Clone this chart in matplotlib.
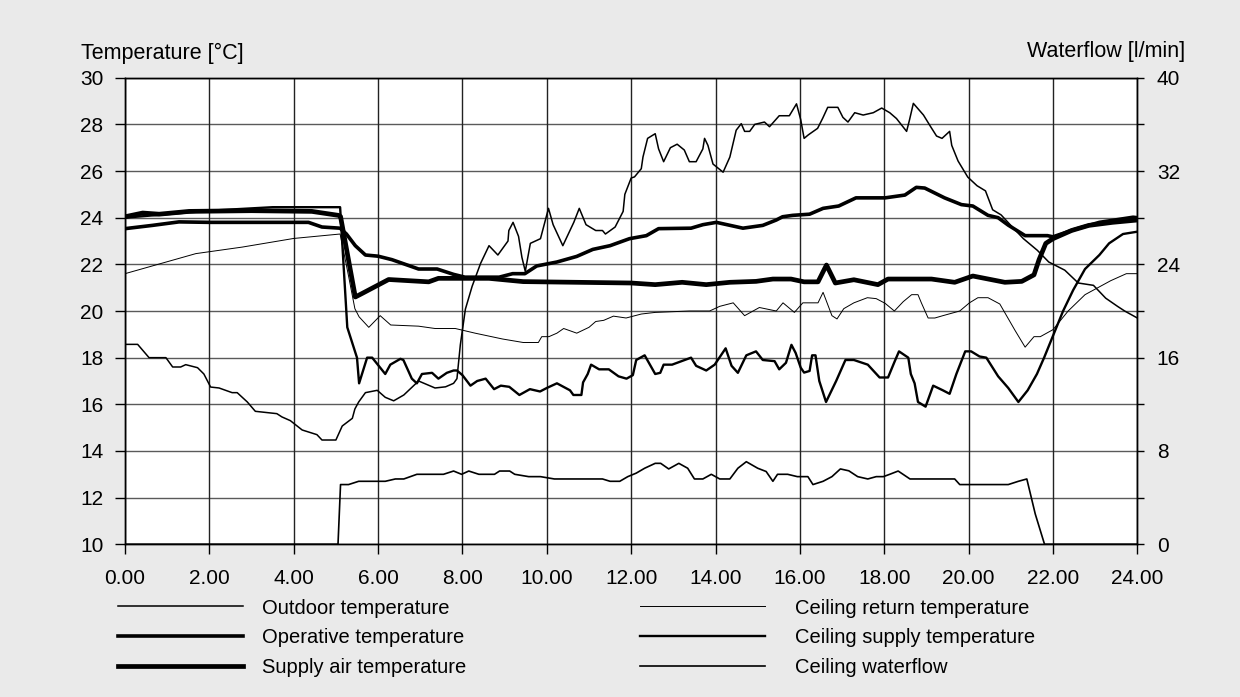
import matplotlib
matplotlib.use("Agg")
import matplotlib.pyplot as plt

plt.rcParams['font.family'] = ['Liberation Sans', 'DejaVu Sans']

# ---- data (hour of day, value) ----
outdoor_t = [0.0, 0.3, 0.57, 0.97, 1.13, 1.32, 1.44, 1.72, 1.87, 2.03, 2.23, 2.54, 2.66, 2.9, 3.09, 3.6,
             3.72, 3.92, 4.2, 4.55, 4.67, 5.0, 5.15, 5.39, 5.45, 5.54, 5.7, 5.98, 6.17, 6.37, 6.61, 6.96,
             7.35, 7.6, 7.79, 7.87, 7.95, 8.07, 8.23, 8.43, 8.63, 8.84, 8.96, 9.08, 9.1, 9.2, 9.33, 9.41,
             9.49, 9.61, 9.85, 10.04, 10.15, 10.38, 10.64, 10.77, 10.93, 11.16, 11.32, 11.39, 11.62, 11.81,
             11.85, 12.0, 12.08, 12.24, 12.28, 12.39, 12.57, 12.65, 12.77, 12.93, 13.09, 13.26, 13.38, 13.54,
             13.7, 13.74, 13.82, 13.94, 14.18, 14.34, 14.49, 14.61, 14.69, 14.81, 14.93, 15.16, 15.28, 15.51,
             15.75, 15.92, 16.02, 16.1, 16.2, 16.42, 16.54, 16.66, 16.9, 17.02, 17.14, 17.3, 17.5, 17.74,
             17.94, 18.13, 18.29, 18.53, 18.6, 18.69, 18.93, 19.1, 19.24, 19.37, 19.55, 19.6, 19.75, 19.98,
             20.2, 20.4, 20.57, 20.77, 21.0, 21.3, 21.63, 21.9, 22.28, 22.6, 22.96, 23.25, 23.53, 23.7, 24.0]
outdoor_T = [18.57, 18.57, 18.0, 18.0, 17.6, 17.6, 17.7, 17.57, 17.3, 16.74, 16.7, 16.5, 16.5, 16.1, 15.7, 15.6,
             15.46, 15.3, 14.9, 14.7, 14.47, 14.47, 15.07, 15.4, 15.8, 16.1, 16.5, 16.6, 16.3, 16.15, 16.4, 17.0,
             16.7, 16.75, 16.9, 17.1, 18.55, 20.08, 21.06, 22.04, 22.8, 22.4, 22.7, 23.0, 23.45, 23.8, 23.2, 22.3,
             21.7, 22.9, 23.1, 24.4, 23.7, 22.8, 23.8, 24.4, 23.7, 23.45, 23.45, 23.3, 23.6, 24.27,
             25.0, 25.7, 25.75, 26.1, 26.6, 27.4, 27.6, 26.95, 26.4, 27.0, 27.15, 26.9, 26.4, 26.4,
             26.95, 27.4, 27.1, 26.3, 25.95, 26.6, 27.75, 28.03, 27.7, 27.7, 28.0, 28.1, 27.9, 28.37,
             28.37, 28.88, 28.2, 27.4, 27.55, 27.83, 28.26, 28.73, 28.73, 28.3, 28.1, 28.5, 28.4, 28.5,
             28.7, 28.5, 28.25, 27.7, 28.2, 28.9, 28.4, 27.9, 27.5, 27.4, 27.7, 27.1, 26.43, 25.74,
             25.37, 25.15, 24.34, 24.12, 23.67, 23.1, 22.6, 22.1, 21.75, 21.2, 21.1, 20.55, 20.2, 20.0, 19.7]

operative_t = [0.0, 0.65, 1.28, 2.0, 4.35, 4.67, 5.1, 5.25, 5.46, 5.7, 6.0, 6.33, 6.96, 7.4, 7.79, 8.06, 8.87,
               9.19, 9.48, 9.76, 10.24, 10.71, 11.09, 11.5, 11.96, 12.36, 12.65, 13.42, 13.7, 14.02, 14.65,
               15.12, 15.44, 15.59, 15.83, 16.23, 16.55, 16.92, 17.33, 18.02, 18.49, 18.76, 18.96, 19.43,
               19.83, 20.1, 20.46, 20.7, 20.94, 21.34, 21.87, 22.0, 22.52, 23.1, 23.9, 24.0]
operative_T = [23.53, 23.67, 23.82, 23.8, 23.8, 23.6, 23.55, 23.3, 22.8, 22.4, 22.35, 22.2, 21.8, 21.8, 21.57,
               21.45, 21.45, 21.6, 21.6, 21.93, 22.1, 22.34, 22.64, 22.8, 23.1, 23.23, 23.53, 23.55, 23.7,
               23.8, 23.55, 23.67, 23.9, 24.04, 24.1, 24.15, 24.4, 24.5, 24.85, 24.85, 24.97, 25.3, 25.27,
               24.85, 24.56, 24.5, 24.1, 24.0, 23.68, 23.23, 23.23, 23.18, 23.5, 23.8, 24.02, 24.0]

supply_air_t = [0.0, 0.42, 0.81, 1.52, 3.0, 4.43, 5.06, 5.11, 5.46, 5.62, 6.25, 7.2, 7.43, 8.63, 9.44, 12.0,
                12.57, 13.21, 13.78, 14.34, 14.96, 15.36, 15.79, 16.1, 16.43, 16.63, 16.84, 17.28, 17.85,
                18.09, 19.12, 19.67, 20.1, 20.86, 21.26, 21.55, 21.67, 21.83, 22.0, 22.44, 22.85, 23.41, 24.0]
supply_air_T = [24.04, 24.2, 24.15, 24.27, 24.3, 24.27, 24.1, 24.05, 20.6, 20.75, 21.35, 21.25, 21.4, 21.4,
                21.26, 21.2, 21.13, 21.23, 21.13, 21.23, 21.27, 21.37, 21.37, 21.25, 21.25, 21.97, 21.2,
                21.34, 21.13, 21.37, 21.37, 21.23, 21.5, 21.23, 21.27, 21.55, 22.2, 22.9, 23.1, 23.45,
                23.67, 23.8, 23.9]

return_t = [0.0, 1.68, 2.78, 4.0, 5.1, 5.3, 5.45, 5.55, 5.78, 6.05, 6.3, 6.96, 7.35, 7.83, 8.3, 8.95, 9.44,
            9.8, 9.88, 10.05, 10.24, 10.4, 10.71, 11.0, 11.16, 11.35, 11.58, 11.88, 12.24, 12.57, 13.38,
            13.86, 14.1, 14.42, 14.69, 15.04, 15.44, 15.6, 15.87, 16.07, 16.43, 16.55, 16.76, 16.88, 17.04,
            17.28, 17.6, 17.81, 18.02, 18.24, 18.45, 18.65, 18.8, 18.88, 19.04, 19.2, 19.39, 19.79, 20.02,
            20.22, 20.46, 20.74, 21.1, 21.34, 21.55, 21.7, 22.0, 22.36, 22.76, 23.37, 23.74, 24.0]
return_T = [21.6, 22.46, 22.74, 23.11, 23.3, 21.5, 20.1, 19.75, 19.3, 19.8, 19.4, 19.35, 19.25, 19.25, 19.05,
            18.8, 18.65, 18.65, 18.9, 18.9, 19.05, 19.25, 19.05, 19.3, 19.55, 19.6, 19.78, 19.7, 19.87,
            19.94, 20.0, 20.0, 20.2, 20.35, 19.8, 20.15, 20.0, 20.35, 19.94, 20.35, 20.35, 20.8, 19.8,
            19.66, 20.1, 20.35, 20.57, 20.53, 20.33, 20.0, 20.4, 20.7, 20.7, 20.35, 19.7, 19.7, 19.8,
            20.0, 20.35, 20.57, 20.57, 20.3, 19.17, 18.45, 18.9, 18.9, 19.2, 20.0, 20.7, 21.3, 21.6, 21.6]

supply_t = [0.0, 2.0, 3.5, 5.1, 5.27, 5.5, 5.55, 5.74, 5.86, 6.17, 6.29, 6.53, 6.6, 6.8, 6.92, 7.04, 7.28,
            7.43, 7.63, 7.79, 7.87, 8.0, 8.19, 8.35, 8.55, 8.75, 8.91, 9.11, 9.35, 9.6, 9.84, 10.0, 10.24,
            10.55, 10.63, 10.82, 10.86, 10.97, 11.05, 11.24, 11.47, 11.7, 11.89, 12.04, 12.12, 12.32, 12.57,
            12.69, 12.77, 12.97, 13.42, 13.54, 13.78, 13.98, 14.24, 14.38, 14.53, 14.73, 14.96, 15.12, 15.4,
            15.51, 15.67, 15.8, 15.9, 16.02, 16.1, 16.23, 16.29, 16.37, 16.46, 16.62, 16.86, 17.08, 17.28,
            17.61, 17.89, 18.09, 18.25, 18.35, 18.57, 18.63, 18.72, 18.8, 18.98, 19.16, 19.39, 19.55, 19.71,
            19.92, 20.06, 20.26, 20.42, 20.7, 20.94, 21.18, 21.4, 21.62, 21.79, 22.24, 22.48, 22.76, 23.1,
            23.33, 23.66, 24.0]
supply_T = [24.0, 24.3, 24.45, 24.45, 19.3, 18.0, 16.9, 18.0, 18.0, 17.3, 17.7, 17.95, 17.9, 17.1, 16.9, 17.3,
            17.35, 17.1, 17.35, 17.45, 17.45, 17.25, 16.8, 17.0, 17.1, 16.65, 16.8, 16.75, 16.4, 16.65, 16.55,
            16.7, 16.9, 16.6, 16.4, 16.4, 16.94, 17.3, 17.7, 17.5, 17.5, 17.2, 17.1, 17.25, 17.9, 18.1, 17.3,
            17.35, 17.7, 17.7, 18.0, 17.65, 17.45, 17.7, 18.4, 17.65, 17.35, 18.1, 18.27, 17.9, 17.85,
            17.5, 17.78, 18.55, 18.2, 17.57, 17.36, 17.43, 18.1, 18.1, 17.0, 16.1, 17.0, 17.9, 17.9,
            17.7, 17.15, 17.15, 17.85, 18.27, 18.0, 17.3, 16.9, 16.1, 15.9, 16.8, 16.6, 16.45, 17.3,
            18.27, 18.27, 18.05, 18.0, 17.2, 16.7, 16.1, 16.6, 17.3, 18.0, 20.0, 20.9, 21.8, 22.4,
            22.9, 23.3, 23.4]

flow_t = [0.0, 5.05, 5.11, 5.3, 5.54, 6.17, 6.41, 6.61, 6.92, 7.55, 7.79, 7.98, 8.15, 8.39, 8.76, 8.88, 9.12,
          9.24, 9.57, 9.85, 10.18, 11.32, 11.5, 11.73, 11.92, 12.12, 12.32, 12.57, 12.7, 12.89, 13.13, 13.34,
          13.5, 13.7, 13.9, 14.1, 14.34, 14.53, 14.73, 15.0, 15.2, 15.36, 15.47, 15.71, 15.94, 16.19, 16.31,
          16.55, 16.76, 16.96, 17.16, 17.37, 17.61, 17.81, 17.98, 18.13, 18.33, 18.61, 19.67, 19.79, 20.94,
          21.18, 21.38, 21.58, 21.8, 24.0]
flow_lpm = [0.0, 0.0, 5.12, 5.12, 5.4, 5.4, 5.6, 5.6, 6.0, 6.0, 6.28, 6.0, 6.28, 6.0, 6.0, 6.28, 6.28,
            6.0, 5.8, 5.8, 5.6, 5.6, 5.4, 5.4, 5.8, 6.1, 6.52, 6.94, 6.94, 6.46, 6.94, 6.52,
            5.6, 5.6, 6.0, 5.6, 5.6, 6.52, 7.08, 6.52, 6.24, 5.4, 6.0, 6.0, 5.8, 5.8, 5.12,
            5.4, 5.8, 6.46, 6.3, 5.8, 5.6, 5.8, 5.8, 6.0, 6.28, 5.6, 5.6, 5.12, 5.12,
            5.4, 5.6, 2.6, 0.0, 0.0]

hour_ticks = list(range(0, 25, 2))
temp_ticks = list(range(10, 31, 2))
flow_ticks = list(range(0, 41, 4))

bg = '#eaeaea'
fig = plt.figure(figsize=(12.4, 6.97), dpi=100, facecolor=bg)
ax = fig.add_axes([0.1008, 0.2191, 0.8164, 0.6694])
ax.set_facecolor('white')

l_out, = ax.plot(outdoor_t, outdoor_T, color='black', lw=1.1, label='Outdoor temperature')
l_op, = ax.plot(operative_t, operative_T, color='black', lw=2.6, label='Operative temperature')
l_sa, = ax.plot(supply_air_t, supply_air_T, color='black', lw=3.4, label='Supply air temperature')
l_ret, = ax.plot(return_t, return_T, color='black', lw=0.7, label='Ceiling return temperature')
l_sup, = ax.plot(supply_t, supply_T, color='black', lw=1.7, label='Ceiling supply temperature')

ax.set_xlim(0, 24)
ax.set_ylim(10, 30)
ax.set_xticks(hour_ticks)
ax.set_xticklabels([f"{h:.2f}" for h in hour_ticks])
ax.set_yticks(temp_ticks)
ax.tick_params(axis='y', length=7.5, width=1, pad=8, labelsize=15)
ax.tick_params(axis='x', length=7.5, width=1, pad=10, labelsize=15)
for y in temp_ticks:
    ax.axhline(y, color='#5a5a5a', lw=1, zorder=0)
for h in hour_ticks:
    ax.axvline(h, color='#222222', lw=1, zorder=0)

ax2 = ax.twinx()
l_flow, = ax2.plot(flow_t, flow_lpm, color='black', lw=1.2, label='Ceiling waterflow')
ax2.set_ylim(0, 40)
ax2.set_yticks(flow_ticks)
ax2.set_yticklabels([str(v) if v % 8 == 0 else '' for v in flow_ticks])
ax2.tick_params(axis='y', length=5, width=1, pad=9, labelsize=15)

for a in (ax, ax2):
    for s in a.spines.values():
        s.set_color('black')
        s.set_linewidth(1)

fig.text(81 / 1240, 1 - 53 / 697, 'Temperature [°C]', fontsize=15.5, ha='left', va='center')
fig.text(1185 / 1240, 1 - 51 / 697, 'Waterflow [l/min]', fontsize=15.5, ha='right', va='center')

# legend: two columns, drawn as two legends so each keeps its own text gap
left_h = [l_out, l_op, l_sa]
right_h = [l_ret, l_sup, l_flow]
leg_kw = dict(loc='upper left', frameon=False, fontsize=14.5, handlelength=6.2,
              labelspacing=0.53, borderpad=0, borderaxespad=0)
fig.legend(left_h, [h.get_label() for h in left_h], bbox_to_anchor=(118 / 1240, 1 - 598.5 / 697),
           handletextpad=0.95, **leg_kw)
fig.legend(right_h, [h.get_label() for h in right_h], bbox_to_anchor=(640 / 1240, 1 - 598.5 / 697),
           handletextpad=1.5, **leg_kw)

fig.savefig('out.png', dpi=100, facecolor=bg)
